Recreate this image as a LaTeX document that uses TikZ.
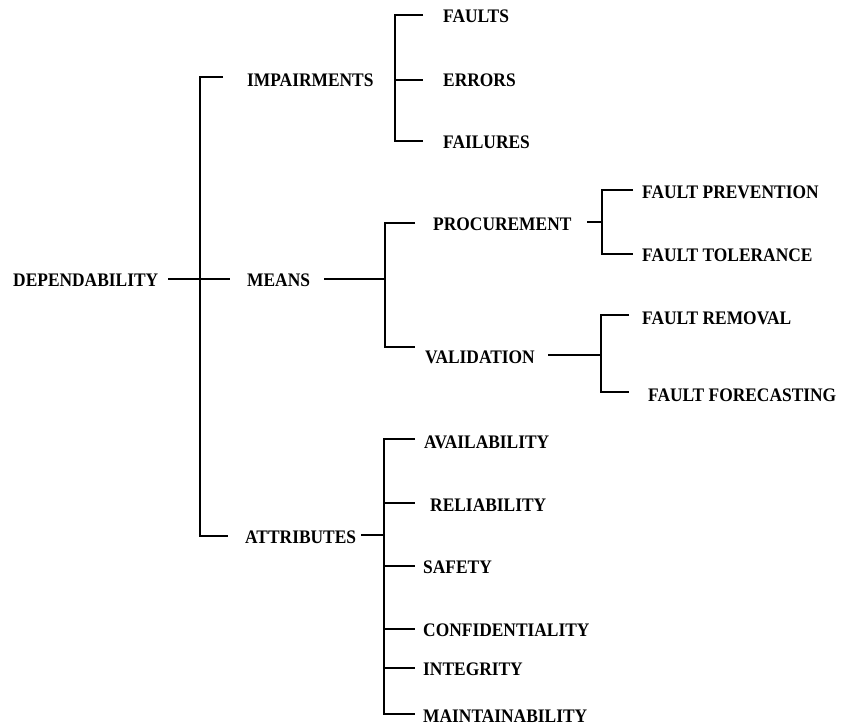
\documentclass[tikz,border=0pt]{standalone}
\usepackage{fontspec}
\usepackage{graphicx}
\newfontfamily\lblfont{Liberation Serif}
\newcommand{\tallcap}[1]{\scalebox{1}[1.1]{#1}}
\begin{document}
\begin{tikzpicture}[x=1pt,y=-1pt,
  lbl/.style={anchor=west,inner sep=0pt,font=\lblfont\bfseries\fontsize{17.4}{21}\selectfont},
  wire/.style={line width=2pt,line cap=butt}]
\useasboundingbox (0,0) rectangle (842,726);
% labels
\node[lbl] (dep) at (13,280) {\tallcap{DEPENDABILITY}};
\node[lbl] (imp) at (247,80) {\tallcap{IMPAIRMENTS}};
\node[lbl] (mea) at (247,280) {\tallcap{MEANS}};
\node[lbl] (att) at (245,537) {\tallcap{ATTRIBUTES}};
\node[lbl] (fau) at (443,16) {\tallcap{FAULTS}};
\node[lbl] (err) at (443,80) {\tallcap{ERRORS}};
\node[lbl] (fai) at (443,142) {\tallcap{FAILURES}};
\node[lbl] (pro) at (433,224) {\tallcap{PROCUREMENT}};
\node[lbl] (val) at (425,357) {\tallcap{VALIDATION}};
\node[lbl] (fp) at (642,192) {\tallcap{FAULT PREVENTION}};
\node[lbl] (ft) at (642,255) {\tallcap{FAULT TOLERANCE}};
\node[lbl] (fr) at (642,318) {\tallcap{FAULT REMOVAL}};
\node[lbl] (ff) at (648,395) {\tallcap{FAULT FORECASTING}};
\node[lbl] (ava) at (424,442) {\tallcap{AVAILABILITY}};
\node[lbl] (rel) at (430,505) {\tallcap{RELIABILITY}};
\node[lbl] (saf) at (423,567) {\tallcap{SAFETY}};
\node[lbl] (con) at (423,630) {\tallcap{CONFIDENTIALITY}};
\node[lbl] (int) at (423,669) {\tallcap{INTEGRITY}};
\node[lbl] (mai) at (423,716) {\tallcap{MAINTAINABILITY}};
% main spine
\coordinate (d0) at (168,279); \coordinate (d1) at (230,279);
\coordinate (s0) at (200,77); \coordinate (s1) at (200,536);
\coordinate (s0e) at (223,77); \coordinate (s1e) at (228,536);
\draw[wire] (d0) -- (d1);
\draw[wire] (s0e) -- (s0) -- (s1) -- (s1e);
% impairments
\coordinate (i0) at (395,15); \coordinate (i1) at (395,80); \coordinate (i2) at (395,141);
\coordinate (i0e) at (423,15); \coordinate (i1e) at (423,80); \coordinate (i2e) at (423,141);
\draw[wire] (i0e) -- (i0) -- (i2) -- (i2e);
\draw[wire] (i1) -- (i1e);
% means
\coordinate (m0) at (324,279); \coordinate (m1) at (385,279);
\coordinate (m2) at (385,223); \coordinate (m3) at (385,347);
\coordinate (m2e) at (415,223); \coordinate (m3e) at (415,347);
\draw[wire] (m0) -- (m1);
\draw[wire] (m2e) -- (m2) -- (m3) -- (m3e);
% procurement
\coordinate (p0) at (587,222); \coordinate (p1) at (602,222);
\coordinate (p2) at (602,190); \coordinate (p3) at (602,254);
\coordinate (p2e) at (633,190); \coordinate (p3e) at (633,254);
\draw[wire] (p0) -- (p1);
\draw[wire] (p2e) -- (p2) -- (p3) -- (p3e);
% validation
\coordinate (v0) at (548,355); \coordinate (v1) at (601,355);
\coordinate (v2) at (601,315); \coordinate (v3) at (601,392);
\coordinate (v2e) at (629,315); \coordinate (v3e) at (629,392);
\draw[wire] (v0) -- (v1);
\draw[wire] (v2e) -- (v2) -- (v3) -- (v3e);
% attributes
\coordinate (a0) at (361,535); \coordinate (a1) at (384,535);
\coordinate (aT) at (384,439); \coordinate (aB) at (384,714);
\coordinate (aTe) at (415,439); \coordinate (aBe) at (415,714);
\draw[wire] (a0) -- (a1);
\draw[wire] (aTe) -- (aT) -- (aB) -- (aBe);
\foreach \yy in {503,566,629,668} {
  \draw[wire] (384,\yy) -- (415,\yy);
}
\end{tikzpicture}
\end{document}
